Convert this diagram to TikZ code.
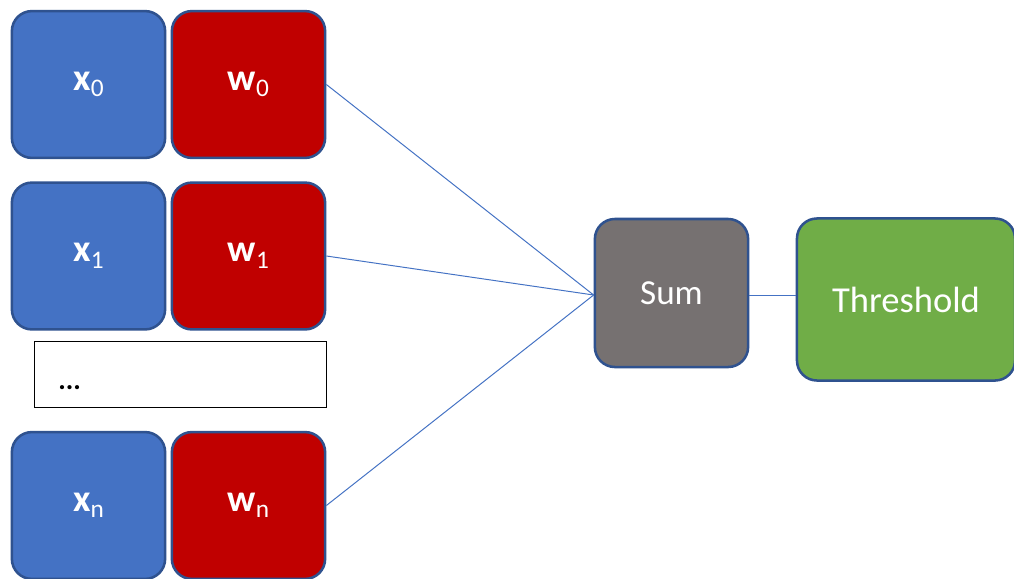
\documentclass[tikz,border=0pt]{standalone}
\usepackage{fontspec}
\setmainfont{Carlito}
\usepackage{tikz}
\usetikzlibrary{calc,positioning}

\definecolor{inblue}{HTML}{4472C4}
\definecolor{wred}{HTML}{C00000}
\definecolor{sumgray}{HTML}{767171}
\definecolor{thrgreen}{HTML}{70AD47}
\definecolor{edgeblue}{HTML}{2F528F}

\newcommand{\lowidx}[1]{\raisebox{-0.35ex}{\fontsize{18}{18}\selectfont\mdseries #1}}

\begin{document}
\begin{tikzpicture}[
    x=0.025cm, y=-0.025cm,
    block/.style={
      rectangle,
      rounded corners=0.5cm,
      draw=edgeblue,
      line width=1.8pt,
      text=white,
      minimum width=3.83cm,
      minimum height=3.67cm,
      font=\fontsize{27}{27}\selectfont\bfseries
    },
    input/.style={block, fill=inblue},
    weight/.style={block, fill=wred},
    wire/.style={draw=inblue, line width=0.7pt}
]

\useasboundingbox[fill=white] (0,0) rectangle (1014,579);

%% inputs and weights
\node [input] (x0) at (88.5,84.5) {x\lowidx{0}};
\node [weight] (w0) at (248.5,84.5) {w\lowidx{0}};
\node [input] (x1) at (88.5,256) {x\lowidx{1}};
\node [weight] (w1) at (248.5,256) {w\lowidx{1}};
\node [input] (xn) at (88.5,505.5) {x\lowidx{n}};
\node [weight] (wn) at (248.5,505.5) {w\lowidx{n}};

\node [rectangle, draw=black, line width=0.6pt, minimum width=7.28cm, minimum height=1.63cm] (more) at (180.5,374.5) {};
\node [anchor=base west, inner sep=0pt, font=\fontsize{20}{20}\selectfont\bfseries] (dots) at (58,389) {...};

%% sum and threshold
\node [block, fill=sumgray, font=\fontsize{25}{25}\selectfont, minimum height=3.7cm] (sum) at (671.5,293) {Sum};
\node [block, fill=thrgreen, font=\fontsize{26}{26}\selectfont, minimum width=5.45cm, minimum height=4.05cm] (thr) at (906,299.5) {Threshold};

%% wires
\draw [wire] (w0.east) -- ($(sum.west)+(0,2)$);
\draw [wire] (w1.east) -- ($(sum.west)+(0,2)$);
\draw [wire] (wn.east) -- ($(sum.west)+(0,2)$);
\draw [wire] ($(sum.east)+(0,2)$) -- ($(thr.west |- sum.east)+(0,2)$);

\end{tikzpicture}
\end{document}
